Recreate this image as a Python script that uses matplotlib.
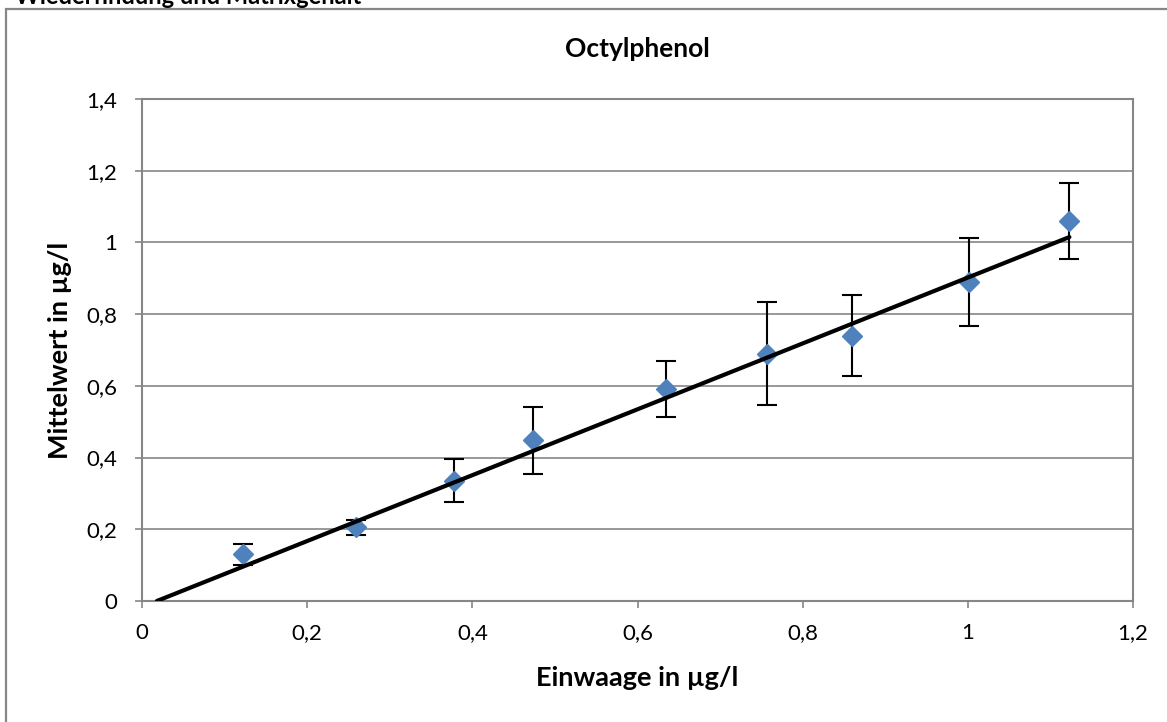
import matplotlib.pyplot as plt
from matplotlib.patches import Rectangle

plt.rcParams['font.family'] = ['Lato', 'DejaVu Sans']

# Daten
einwaage = [0.122, 0.259, 0.378, 0.474, 0.634, 0.757, 0.860, 1.001, 1.123]
mittelwert = [0.130, 0.205, 0.335, 0.448, 0.590, 0.690, 0.740, 0.890, 1.060]
fehler = [0.030, 0.022, 0.060, 0.094, 0.078, 0.143, 0.112, 0.122, 0.105]

# Trendlinie (Endpunkte)
trend_x = [0.018, 1.123]
trend_y = [0.0, 1.015]

x_ticks = [0, 0.2, 0.4, 0.6, 0.8, 1.0, 1.2]
y_ticks = [0, 0.2, 0.4, 0.6, 0.8, 1.0, 1.2, 1.4]


def komma(v):
    s = ('%.1f' % v).rstrip('0').rstrip('.')
    return s.replace('.', ',')


fig = plt.figure(figsize=(11.67, 7.22), dpi=100)
ax = fig.add_axes([142 / 1167, 121 / 722, 991 / 1167, 502 / 722])

grau = '#868686'

# Rahmen des Diagramms (rechts und unten abgeschnitten)
fig.patches.append(Rectangle((6 / 1167, -0.1), 1.2, 1.1 - 9 / 722,
                             transform=fig.transFigure, fill=False,
                             edgecolor=grau, linewidth=1.6, zorder=0))

fig.text(15 / 1167, 1 - 4 / 722, 'Wiederfindung und Matrixgehalt',
         fontsize=17, fontweight='bold', ha='left', va='baseline')

ax.errorbar(einwaage, mittelwert, yerr=fehler, fmt='none', ecolor='black',
            elinewidth=1.5, capsize=7, capthick=1.5, zorder=3)
ax.plot(einwaage, mittelwert, linestyle='none', marker='D', markersize=10,
        color='#4F81BD', zorder=4)
ax.plot(trend_x, trend_y, color='black', linewidth=3, solid_capstyle='round',
        zorder=5)

ax.set_xlim(0, 1.2)
ax.set_ylim(0, 1.4)
ax.set_xticks(x_ticks)
ax.set_yticks(y_ticks)
ax.set_xticklabels([komma(v) for v in x_ticks], fontsize=16)
ax.set_yticklabels([komma(v) for v in y_ticks], fontsize=16)
ax.tick_params(axis='x', direction='out', length=5, width=1.2, color=grau, pad=11)
ax.tick_params(axis='y', direction='out', length=5, width=1.2, color=grau, pad=13)

ax.grid(axis='y', color=grau, linewidth=1.2)
ax.set_axisbelow(True)
for sp in ax.spines.values():
    sp.set_color(grau)
    sp.set_linewidth(1.5)

ax.text(0.5, 1 + 42 / 502, 'Octylphenol', transform=ax.transAxes,
        fontsize=19, fontweight='bold', ha='center', va='baseline')
ax.set_xlabel('Einwaage in µg/l', fontsize=19.5, fontweight='bold', va='baseline')
ax.xaxis.set_label_coords(0.5, -85 / 502)
ax.set_ylabel('Mittelwert in µg/l', fontsize=19.5, fontweight='bold', va='baseline')
ax.yaxis.set_label_coords(-74 / 991, 0.5)

fig.savefig('out.png', dpi=100)
